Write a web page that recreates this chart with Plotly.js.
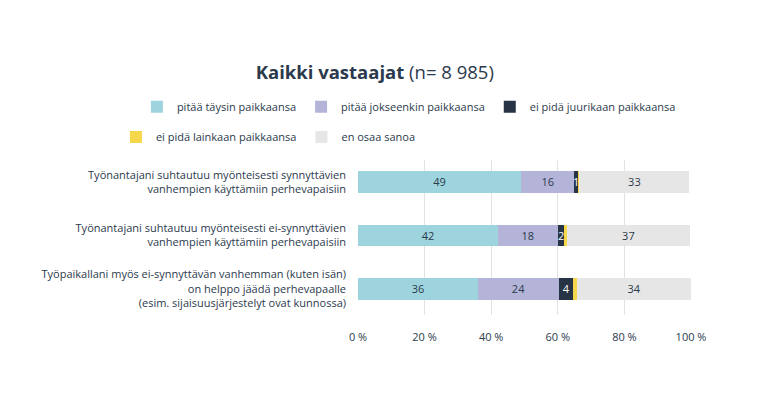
<!DOCTYPE html>
<html><head><meta charset="utf-8">
<script src="https://cdn.plot.ly/plotly-3.0.1.min.js"></script>
<style>html,body{margin:0;padding:0;background:#fff}#c{width:768px;height:399px}</style>
</head><body><div id="c"></div>
<script>
const categories = [
  "Työnantajani suhtautuu myönteisesti synnyttävien<br>vanhempien käyttämiin perhevapaisiin",
  "Työnantajani suhtautuu myönteisesti ei-synnyttävien<br>vanhempien käyttämiin perhevapaisiin",
  "Työpaikallani myös ei-synnyttävän vanhemman (kuten isän)<br>on helppo jäädä perhevapaalle<br>(esim. sijaisuusjärjestelyt ovat kunnossa)"
];
const seriesNames = ["pitää täysin paikkaansa","pitää jokseenkin paikkaansa","ei pidä juurikaan paikkaansa","ei pidä lainkaan paikkaansa","en osaa sanoa"];
const taysin = [49, 42, 36];
const jokseenkin = [16, 18, 24.4];
const juurikaan = [1, 2, 4.3];
const lainkaan = [0.5, 0.7, 1.2];
const enOsaa = [33, 37, 34];
const tickVals = [0, 20, 40, 60, 80, 100];
const tickLabels = ["0 %", "20 %", "40 %", "60 %", "80 %", "100 %"];

const colors = ["#9dd4de", "#b4b4d9", "#263445", "#f6d64a", "#e6e6e6"];
const textColors = ["#2b3a4c", "#2b3a4c", "#ffffff", "#2b3a4c", "#2b3a4c"];
const values = [taysin, jokseenkin, juurikaan, lainkaan, enOsaa];
const FONT = "Open Sans, Noto Sans, sans-serif";

const traces = values.map((v, i) => ({
  type: "bar", orientation: "h", name: seriesNames[i],
  y: categories, x: v,
  marker: {color: colors[i], line: {width: 0}},
  text: i === 3 ? v.map(() => "") : v.map(x => String(Math.round(x))),
  textposition: "inside", insidetextanchor: "middle",
  insidetextfont: {color: textColors[i], size: 11, family: FONT},
  hoverinfo: "none",
  legend: i < 3 ? "legend" : "legend2"
}));

const layout = {
  width: 768, height: 399,
  margin: {l: 358, r: 77, t: 160, b: 84},
  barmode: "stack", bargap: 0.6,
  paper_bgcolor: "#fff", plot_bgcolor: "#fff",
  font: {family: FONT, color: "#2b3a4c", size: 11},
  uniformtext: {mode: "show", minsize: 11},
  title: {text: "<b>Kaikki vastaajat</b> (n= 8 985)", font: {size: 18.5, color: "#2b3a4c"}, x: 0.488, xanchor: "center", y: 0.817, yanchor: "middle"},
  xaxis: {range: [0, 100], tickvals: tickVals, ticktext: tickLabels, showgrid: true, gridcolor: "#e2e2e2", gridwidth: 1, zeroline: false, showline: false, ticks: "", ticklabelstandoff: 14, tickfont: {size: 11}, fixedrange: true},
  yaxis: {type: "category", categoryorder: "array", categoryarray: categories, range: [2.49, -0.41], showgrid: false, zeroline: false, ticks: "", ticklabelstandoff: 11, tickfont: {size: 11}, fixedrange: true},
  showlegend: true,
  legend: {orientation: "h", x: -0.664, xanchor: "left", y: 1.343, yanchor: "middle", font: {size: 11}, itemwidth: 30, traceorder: "normal"},
  legend2: {orientation: "h", x: -0.727, xanchor: "left", y: 1.1484, yanchor: "middle", font: {size: 11}, itemwidth: 30, traceorder: "normal"}
};
Plotly.newPlot("c", traces, layout, {displayModeBar: false, staticPlot: true});
</script></body></html>
